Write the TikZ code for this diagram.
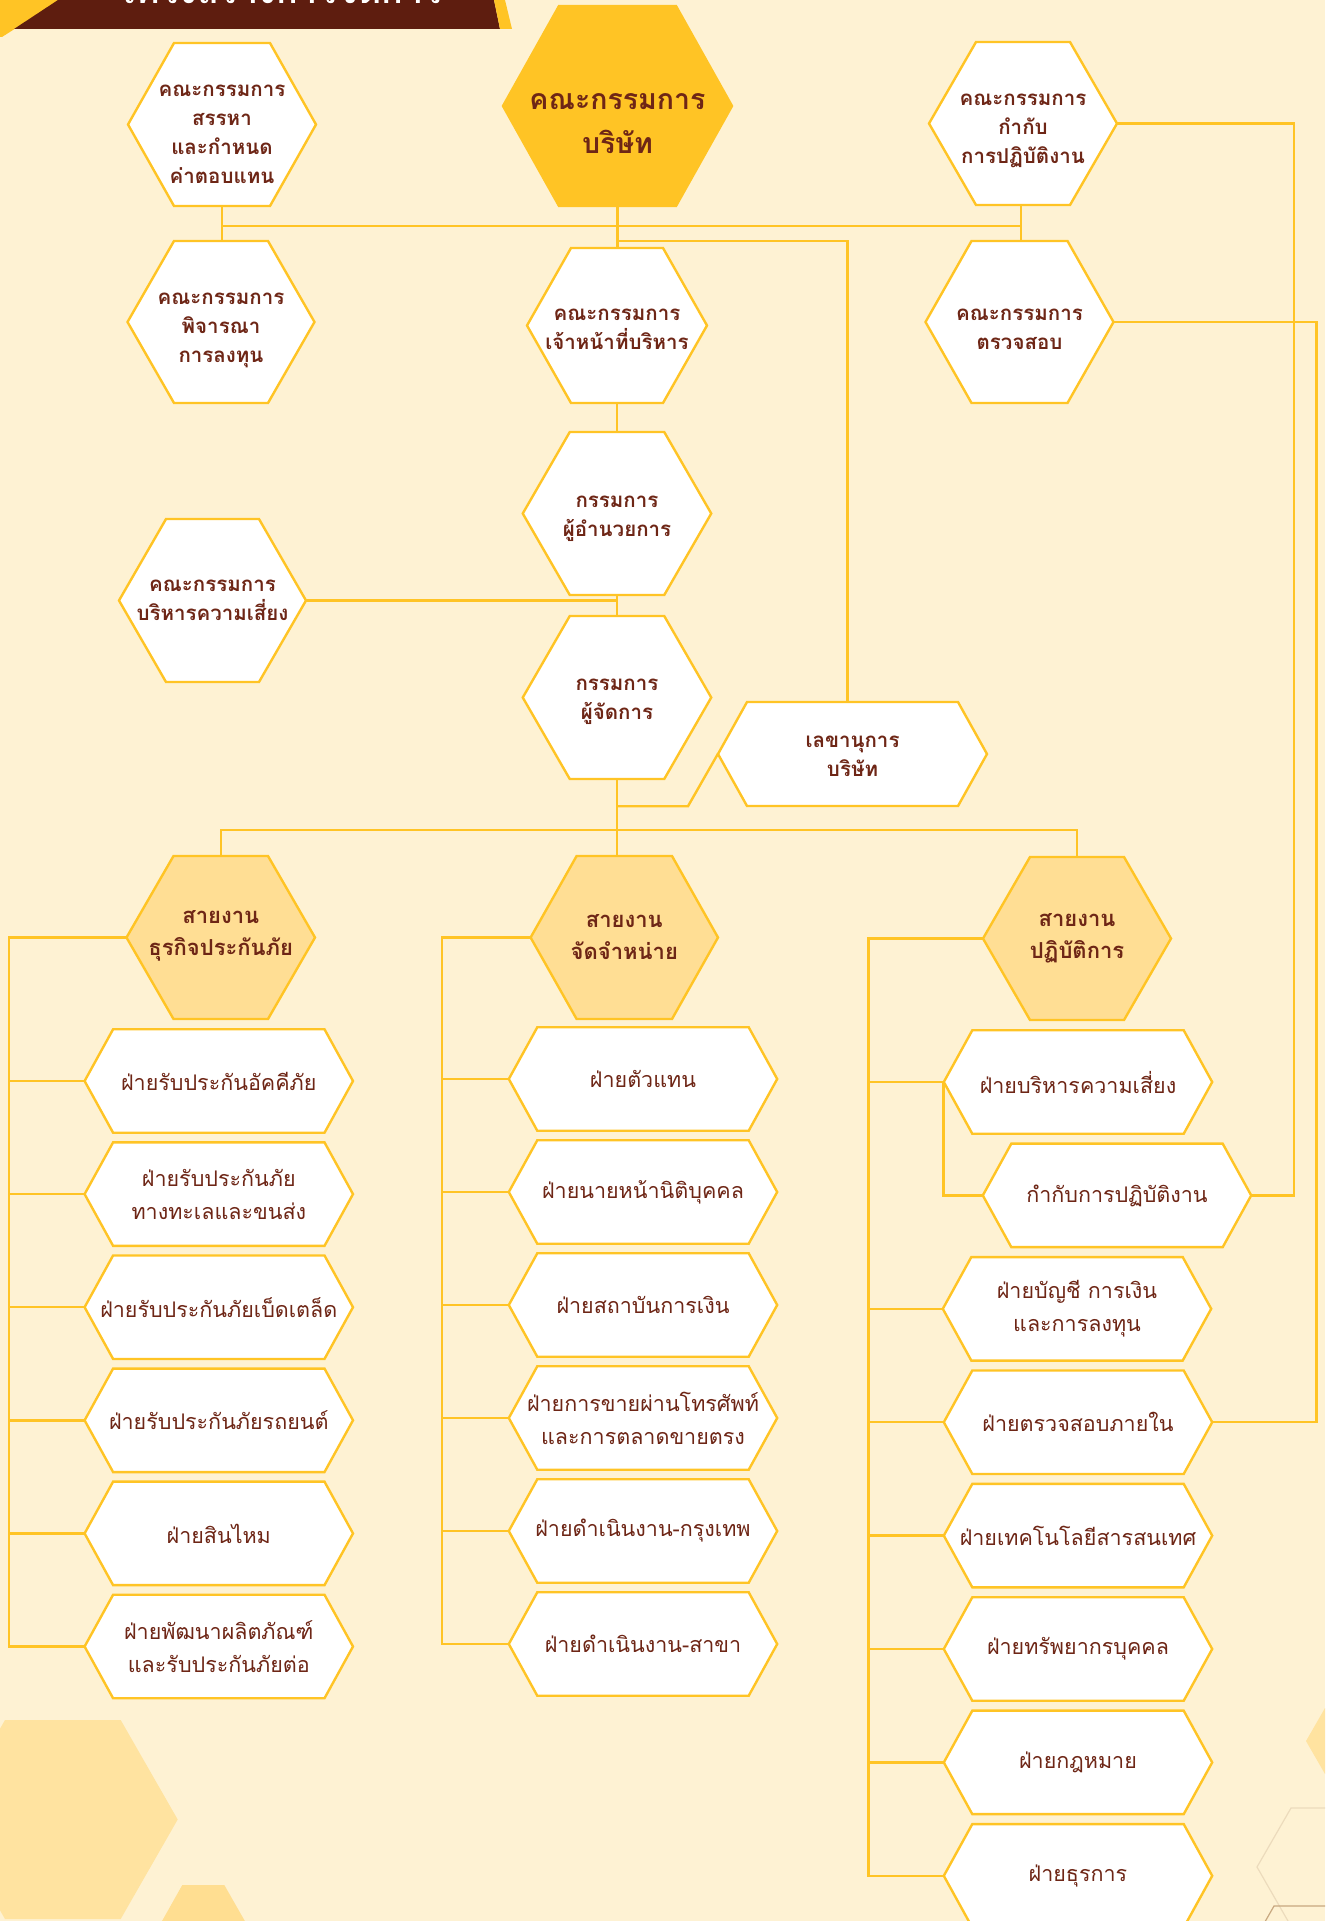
\documentclass[tikz,border=0pt]{standalone}
\usepackage{fontspec}
\newfontfamily\thai[Script=Thai]{Loma}
\usetikzlibrary{calc}
\pgfdeclarelayer{back}
\pgfdeclarelayer{lines}
\pgfdeclarelayer{hexes}
\pgfsetlayers{back,lines,hexes,main}
\definecolor{bgc}{RGB}{254,242,211}
\definecolor{gold}{RGB}{255,196,37}
\definecolor{lgold}{RGB}{255,222,148}
\definecolor{deco}{RGB}{255,227,160}
\definecolor{decob}{RGB}{255,222,145}
\definecolor{txt}{RGB}{110,38,22}
\definecolor{hdr}{RGB}{94,29,15}
\definecolor{faint}{RGB}{236,219,188}
\definecolor{tan}{RGB}{200,168,128}
\tikzset{
  hexw/.style={fill=white, draw=gold, line width=2.4pt, line join=miter},
  hexb/.style={fill=gold, draw=gold, line width=2.4pt, line join=miter},
  hexc/.style={fill=lgold, draw=gold, line width=2.4pt, line join=miter},
  conn/.style={draw=gold, line width=2.4pt},
  anch/.style={inner sep=0pt, draw=none},
  lbltop/.style={inner sep=0pt, align=center, text=txt, font={\thai\bfseries\fontsize{20.5}{29}\selectfont}},
  lblboard/.style={inner sep=0pt, align=center, text=txt, font={\thai\bfseries\fontsize{28.5}{44}\selectfont}},
  lblcat/.style={inner sep=0pt, align=center, text=txt, font={\thai\bfseries\fontsize{22}{32}\selectfont}},
  lblsub/.style={inner sep=0pt, align=center, text=txt, font={\thai\fontsize{21.5}{33}\selectfont}},
}
% #1 name, #2 cx, #3 cy, #4 half width, #5 half height, #6 slant, #7 hex style, #8 label style, #9 text
\newcommand{\hexnode}[9]{%
  \begin{pgfonlayer}{hexes}
    \path[#7] ({#2-#4},#3) -- ({#2-#4+#6},{#3-#5}) -- ({#2+#4-#6},{#3-#5}) -- ({#2+#4},#3)
      -- ({#2+#4-#6},{#3+#5}) -- ({#2-#4+#6},{#3+#5}) -- cycle;
  \end{pgfonlayer}
  \node[anch, minimum width={2*#4}, minimum height={2*#5}] (#1) at (#2,#3) {};
  \node[#8] (#1-t) at (#1.center) {#9};
}
\newcommand{\subhex}[4]{\hexnode{#1}{#2}{#3}{134.2}{51.75}{28.5}{hexw}{lblsub}{#4}}
\begin{document}
\begin{tikzpicture}[x=1pt,y=-1pt]
\useasboundingbox (0,0) rectangle (1325,1921);
\begin{pgfonlayer}{back}
  \begin{scope}
    \clip (0,0) rectangle (1325,1921);
    \fill[bgc] (0,0) rectangle (1325,1921);
    \fill[deco] (-52,1819.5) -- (5,1720) -- (120.7,1720) -- (177.7,1819.5) -- (120.7,1919) -- (5,1919) -- cycle;
    \fill[decob] (182.3,1885) -- (224.3,1885) -- (250,1930) -- (157,1930) -- cycle;
    \fill[deco] (1306,1741) -- (1325,1708) -- (1340,1708) -- (1340,1774) -- (1325,1774) -- cycle;
    \draw[faint, line width=1.2pt] (1340,1808) -- (1291,1808) -- (1257,1867) -- (1292,1928);
    \draw[tan, line width=1.2pt] (1340,1906) -- (1274,1906) -- (1262,1927);
    % header banner
    \fill[gold] (0,0) -- (60,0) -- (2,37) -- (0,37) -- cycle;
    \fill[hdr] (58,0) -- (494,0) -- (500,29) -- (14,29) -- cycle;
    \fill[gold] (494,0) -- (505,0) -- (512,29) -- (500,29) -- cycle;
    \node[anchor=base, text=white, inner sep=0pt, font={\thai\bfseries\fontsize{36}{40}\selectfont}] (title) at (280,4) {โครงสร้างการจัดการ};
  \end{scope}
\end{pgfonlayer}

% top committees
\hexnode{nom}{222}{124.5}{94}{81.5}{46}{hexw}{lbltop, yshift=-10pt}{คณะกรรมการ\\สรรหา\\และกำหนด\\ค่าตอบแทน}
\hexnode{board}{617.5}{106}{114.5}{100}{56}{hexb}{lblboard, yshift=-18pt}{คณะกรรมการ\\บริษัท}
\hexnode{gov}{1023}{123.5}{94}{81.5}{47}{hexw}{lbltop, yshift=-7pt}{คณะกรรมการ\\กำกับ\\การปฏิบัติงาน}
\hexnode{inv}{221}{322}{93.5}{81}{46.5}{hexw}{lbltop, yshift=-8pt}{คณะกรรมการ\\พิจารณา\\การลงทุน}
\hexnode{ceo}{617}{325.5}{90}{77.5}{44}{hexw}{lbltop, yshift=-4pt}{คณะกรรมการ\\เจ้าหน้าที่บริหาร}
\hexnode{audit}{1019.5}{322}{94}{81}{46}{hexw}{lbltop, yshift=-7pt}{คณะกรรมการ\\ตรวจสอบ}
\hexnode{md}{617}{513.5}{94.25}{81.5}{47}{hexw}{lbltop, yshift=-5pt}{กรรมการ\\ผู้อำนวยการ}
\hexnode{risk}{212.5}{600.5}{93.5}{81.5}{47}{hexw}{lbltop}{คณะกรรมการ\\บริหารความเสี่ยง}
\hexnode{mgr}{617}{697.5}{94.25}{81.5}{47}{hexw}{lbltop, yshift=-4pt}{กรรมการ\\ผู้จัดการ}
\hexnode{sec}{852.5}{754}{134.5}{52}{29}{hexw}{lbltop, yshift=-2pt}{เลขานุการ\\บริษัท}
% divisions
\hexnode{catIns}{220.75}{937.5}{94.25}{81.5}{47}{hexc}{lblcat, yshift=2pt}{สายงาน\\ธุรกิจประกันภัย}
\hexnode{catDist}{624.3}{937.5}{93.7}{81.5}{46}{hexc}{lblcat}{สายงาน\\จัดจำหน่าย}
\hexnode{catOps}{1077}{938.5}{94}{81.5}{47}{hexc}{lblcat}{สายงาน\\ปฏิบัติการ}
% insurance departments
\subhex{c1}{218.8}{1081}{ฝ่ายรับประกันอัคคีภัย}
\subhex{c2}{218.8}{1194.1}{ฝ่ายรับประกันภัย\\ทางทะเลและขนส่ง}
\subhex{c3}{218.8}{1307.2}{ฝ่ายรับประกันภัยเบ็ดเตล็ด}
\subhex{c4}{218.8}{1420.3}{ฝ่ายรับประกันภัยรถยนต์}
\subhex{c5}{218.8}{1533.4}{ฝ่ายสินไหม}
\subhex{c6}{218.8}{1646.5}{ฝ่ายพัฒนาผลิตภัณฑ์\\และรับประกันภัยต่อ}
% distribution departments
\subhex{d1}{643}{1079}{ฝ่ายตัวแทน}
\subhex{d2}{643}{1192}{ฝ่ายนายหน้านิติบุคคล}
\subhex{d3}{643}{1305}{ฝ่ายสถาบันการเงิน}
\subhex{d4}{643}{1418}{ฝ่ายการขายผ่านโทรศัพท์\\และการตลาดขายตรง}
\subhex{d5}{643}{1531}{ฝ่ายดำเนินงาน-กรุงเทพ}
\subhex{d6}{643}{1644}{ฝ่ายดำเนินงาน-สาขา}
% operations departments
\subhex{o1}{1078}{1082}{ฝ่ายบริหารความเสี่ยง}
\subhex{o2}{1117}{1195.4}{กำกับการปฏิบัติงาน}
\subhex{o3}{1077}{1308.8}{ฝ่ายบัญชี การเงิน\\และการลงทุน}
\subhex{o4}{1078}{1422.2}{ฝ่ายตรวจสอบภายใน}
\subhex{o5}{1078}{1535.6}{ฝ่ายเทคโนโลยีสารสนเทศ}
\subhex{o6}{1078}{1649}{ฝ่ายทรัพยากรบุคคล}
\subhex{o7}{1078}{1762.4}{ฝ่ายกฎหมาย}
\subhex{o8}{1078}{1875.8}{ฝ่ายธุรการ}

\begin{pgfonlayer}{lines}
  \coordinate (hbus) at (0,226);
  \coordinate (secj) at (0,241);
  \coordinate (bus) at (0,830);
  \coordinate (r1) at (1294,0);
  \coordinate (r2) at (1316.5,0);
  \coordinate (lb) at (9,0);
  \coordinate (mb) at (442,0);
  \coordinate (rb) at (868.6,0);
  \draw[conn] (nom.south) -- (nom.south |- inv.north);
  \draw[conn] ([xshift=-2pt]gov.south) -- ([xshift=-2pt]gov.south |- audit.north);
  \draw[conn] (nom.south |- hbus) -- ([xshift=-2pt]gov.south |- hbus);
  \draw[conn] (board.south) -- (board.south |- ceo.north);
  \draw[conn] (board.south |- secj) -| ([xshift=-5pt]sec.north);
  \draw[conn] (gov.east) -- (gov.east -| r1) -- (r1 |- o2.east) -- (o2.east);
  \draw[conn] (audit.east) -- (audit.east -| r2) -- (r2 |- o4.east) -- (o4.east);
  \draw[conn] (ceo.south) -- (md.north);
  \draw[conn] (md.south) -- (mgr.north);
  \draw[conn] (risk.east) -- (risk.east -| md.south);
  \draw[conn] (mgr.south) -- (mgr.south |- catDist.north);
  \draw[conn] (mgr.south |- sec.south) -- ++(71,0) -- (sec.west);
  \draw[conn] (catIns.north) -- (catIns.north |- bus) -- (catOps.north |- bus) -- (catOps.north);
  \draw[conn] (catIns.west) -- (catIns.west -| lb) -- (lb |- c6.west) -- (c6.west);
  \foreach \n in {c1,c2,c3,c4,c5} \draw[conn] (\n.west) -- (\n.west -| lb);
  \draw[conn] (catDist.west) -- (catDist.west -| mb) -- (mb |- d6.west) -- (d6.west);
  \foreach \n in {d1,d2,d3,d4,d5} \draw[conn] (\n.west) -- (\n.west -| mb);
  \draw[conn] (catOps.west) -- (catOps.west -| rb) -- (rb |- o8.west) -- (o8.west);
  \foreach \n in {o1,o3,o4,o5,o6,o7} \draw[conn] (\n.west) -- (\n.west -| rb);
  \draw[conn] (o1.west) -- (o1.west |- o2.west) -- (o2.west);
\end{pgfonlayer}
\end{tikzpicture}
\end{document}
